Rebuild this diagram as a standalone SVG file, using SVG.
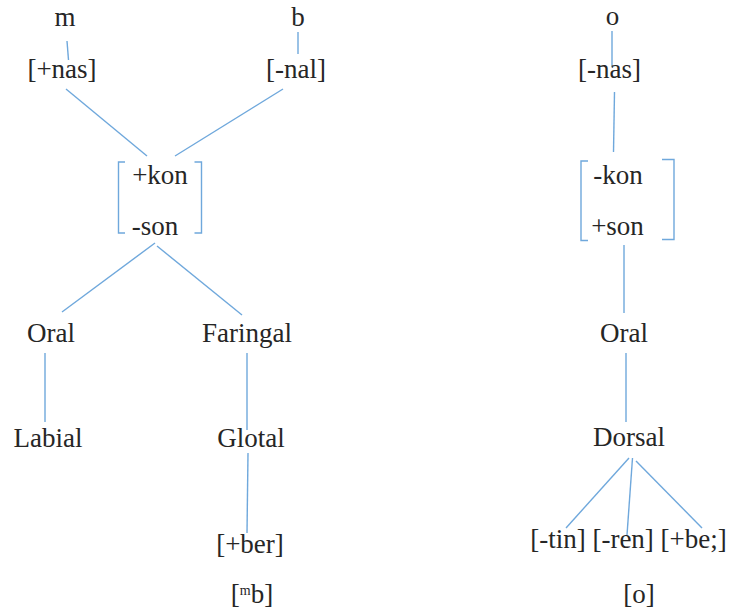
<svg xmlns="http://www.w3.org/2000/svg" width="731" height="614" viewBox="0 0 731 614">
  <style>
    text { font-family: "Liberation Serif", "Times New Roman", serif; font-size: 27px; fill: #262626; text-anchor: middle; }
    .sup { font-size: 14px; }
    line, polyline { stroke: #6fa8dc; stroke-width: 1.4; fill: none; }
  </style>
  <rect width="731" height="614" fill="#ffffff"/>

  <!-- connectors -->
  <g id="connectors">
    <line x1="67" y1="41" x2="68.5" y2="60"/>
    <line x1="298" y1="32" x2="298" y2="54"/>
    <line x1="66" y1="89" x2="147" y2="156"/>
    <line x1="283" y1="89" x2="175" y2="156"/>
    <line x1="155" y1="243" x2="62" y2="312"/>
    <line x1="157" y1="246" x2="242" y2="315"/>
    <line x1="45" y1="353" x2="45" y2="422"/>
    <line x1="247" y1="353" x2="247" y2="430"/>
    <line x1="248" y1="453" x2="247" y2="533"/>

    <line x1="612" y1="31" x2="612" y2="67"/>
    <line x1="614.5" y1="92" x2="613.5" y2="152"/>
    <line x1="624" y1="245" x2="624" y2="313"/>
    <line x1="626" y1="353" x2="626" y2="422"/>
    <line x1="629" y1="458" x2="566" y2="528"/>
    <line x1="632.5" y1="458" x2="627" y2="535"/>
    <line x1="636" y1="461" x2="702" y2="528"/>
  </g>

  <!-- left tree: [mb] -->
  <g id="m"><text x="65" y="26">m</text></g>
  <g id="b"><text x="298" y="26">b</text></g>
  <g id="plus-nas"><text x="62" y="78">[+nas]</text></g>
  <g id="minus-nal"><text x="296" y="78">[-nal]</text></g>
  <g id="kon-son-left">
    <polyline points="125,162 118.5,162 118.5,233 125,233"/>
    <polyline points="194.5,162 201.5,162 201.5,233 194.5,233"/>
    <text x="160" y="184">+kon</text>
    <text x="155" y="235">-son</text>
  </g>
  <g id="oral-left"><text x="51" y="342">Oral</text></g>
  <g id="faringal"><text x="247" y="342">Faringal</text></g>
  <g id="labial"><text x="48" y="447">Labial</text></g>
  <g id="glotal"><text x="251" y="447">Glotal</text></g>
  <g id="plus-ber"><text x="250" y="553">[+ber]</text></g>
  <g id="label-mb"><text x="252" y="603">[<tspan class="sup" dy="-8">m</tspan><tspan dy="8">b]</tspan></text></g>

  <!-- right tree: [o] -->
  <g id="o"><text x="612.5" y="25">o</text></g>
  <g id="minus-nas"><text x="609.5" y="78">[-nas]</text></g>
  <g id="kon-son-right">
    <polyline points="588,161 581,161 581,240.5 588,240.5"/>
    <polyline points="662,159.5 674,159.5 674,239.5 662,239.5"/>
    <text x="618" y="184">-kon</text>
    <text x="617.5" y="235">+son</text>
  </g>
  <g id="oral-right"><text x="624" y="342">Oral</text></g>
  <g id="dorsal"><text x="629" y="446">Dorsal</text></g>
  <g id="features"><text x="628.5" y="548">[-tin] [-ren] [+be;]</text></g>
  <g id="label-o"><text x="639" y="603">[o]</text></g>
</svg>
